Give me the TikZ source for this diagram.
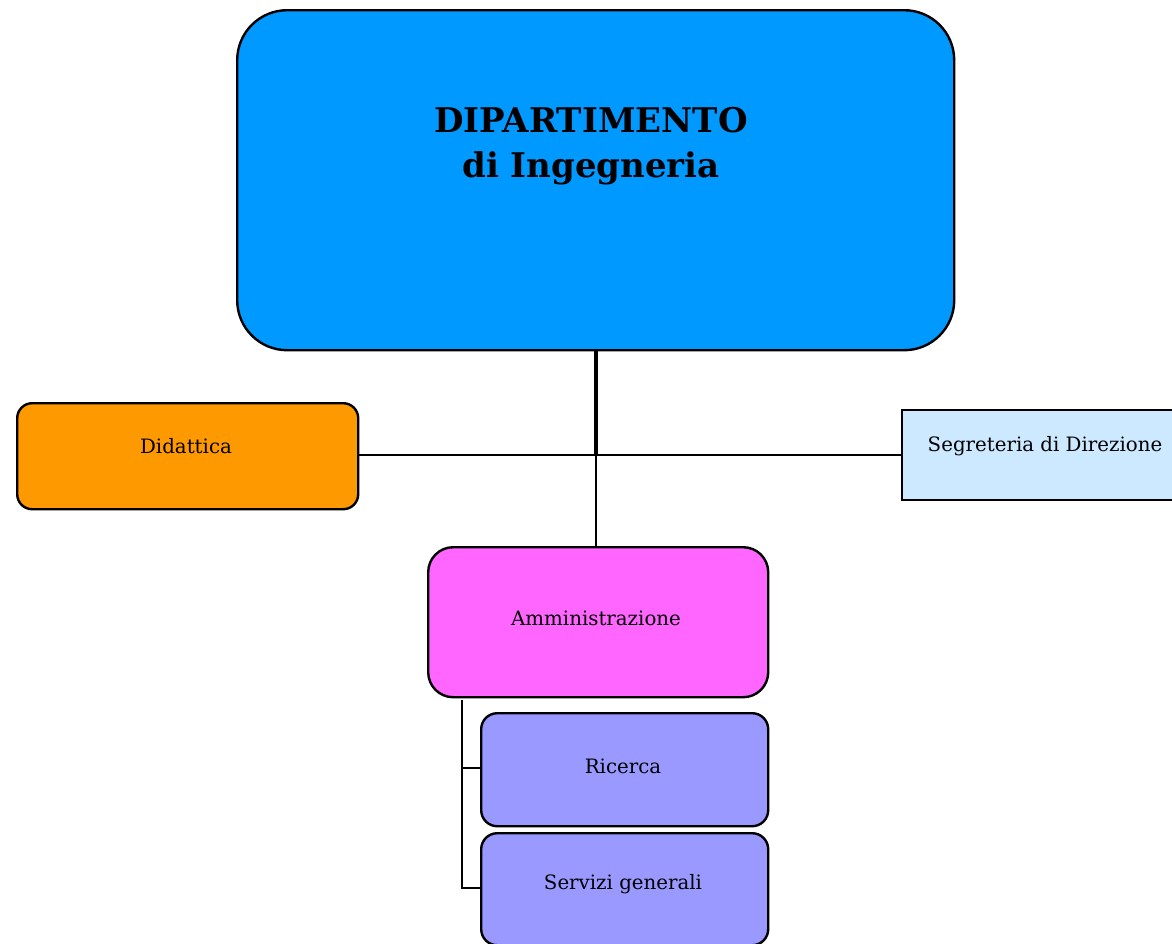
\documentclass[tikz,border=0pt]{standalone}
\usepackage{fontspec}
\setmainfont{DejaVu Serif}
\definecolor{deptblue}{HTML}{0099FF}
\definecolor{didorange}{HTML}{FF9900}
\definecolor{segblue}{HTML}{CCE9FF}
\definecolor{ammpink}{HTML}{FF66FF}
\definecolor{subviolet}{HTML}{9999FF}
\tikzset{
  box/.style={draw=black, line width=2.4pt, text=black, align=center, inner sep=0pt, anchor=north west},
  lbl/.style={font=\fontsize{19.8}{23}\selectfont, text=black, align=center},
  conn/.style={draw=black, line width=2.3pt},
}
\begin{document}
\begin{tikzpicture}[x=1pt,y=-1pt]
\useasboundingbox (0,0) rectangle (1172,943);
\begin{scope}
\clip (0,0) rectangle (1172,943);
% main box
\node[box, fill=deptblue, rounded corners=50pt, minimum width=717pt, minimum height=340pt] (dept) at (236,9) {};
\node[font=\fontsize{34}{45}\selectfont\bfseries, align=center, text=black] (title) at (591,146) {DIPARTIMENTO\\ di Ingegneria};
% Didattica
\node[box, fill=didorange, rounded corners=15pt, minimum width=341pt, minimum height=106pt] (did) at (16,402) {};
\node[lbl] (didt) at (186,446) {Didattica};
% Segreteria
\node[box, fill=segblue, minimum width=300pt, minimum height=90pt] (seg) at (901,409) {};
\node[lbl] (segt) at (1045,446) {Segreteria di Direzione};
% Amministrazione
\node[box, fill=ammpink, rounded corners=25pt, minimum width=340pt, minimum height=150pt] (amm) at (427,546) {};
\node[lbl] (ammt) at (596,618) {Amministrazione};
% Ricerca
\node[box, fill=subviolet, rounded corners=16pt, minimum width=287pt, minimum height=113pt] (ric) at (480,712) {};
\node[lbl] (rict) at (623,766) {Ricerca};
% Servizi generali
\node[box, fill=subviolet, rounded corners=16pt, minimum width=287pt, minimum height=112pt] (ser) at (480,832) {};
\node[lbl] (sert) at (623,884) {Servizi generali};
\end{scope}
% connectors
\coordinate (hub) at (596,455);
\draw[draw=black, line width=3.8pt] (dept.south -| hub) -- (hub);
\draw[conn] (did.east |- hub) -- (hub) -- (seg.west |- hub);
\draw[conn] (hub) -- (amm.north -| hub);
\coordinate (tr) at (462,700);
\draw[conn] (tr) -- (462,768) -- (ric.west |- 0,768);
\draw[conn] (462,766) -- (462,888) -- (ser.west |- 0,888);
\end{tikzpicture}
\end{document}
